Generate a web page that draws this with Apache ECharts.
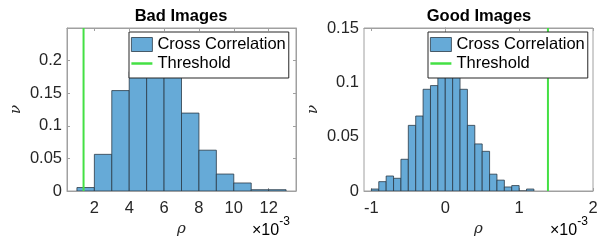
<!DOCTYPE html>
<html>
<head>
<meta charset="utf-8">
<script src="https://cdn.jsdelivr.net/npm/echarts@6/dist/echarts.min.js"></script>
<style>
  html, body { margin: 0; padding: 0; background: #fff; }
  #main { width: 604px; height: 247px; }
</style>
</head>
<body>
<div id="main"></div>
<script>
// histogram bin edges (x 10^-3) and normalised counts
var badEdges = [1, 2, 3, 4, 5, 6, 7, 8, 9, 10, 11, 12, 13];
var badFreq = [0.0053, 0.0562, 0.154, 0.183, 0.196, 0.181, 0.1195, 0.0626, 0.026, 0.0123, 0.002, 0.002];
var goodEdges = [-1.0, -0.9, -0.8, -0.7, -0.6, -0.5, -0.4, -0.3, -0.2, -0.1, 0, 0.1, 0.2, 0.3, 0.4, 0.5, 0.6, 0.7, 0.8, 0.9, 1.0, 1.1, 1.2];
var goodFreq = [0.0018, 0.0086, 0.0138, 0.0117, 0.0292, 0.0604, 0.069, 0.0936, 0.097, 0.112, 0.118, 0.114,
    0.0936, 0.0604, 0.0433, 0.0365, 0.0155, 0.01, 0.0037, 0.005, 0, 0.0018];
var badThreshold = 1.38;
var goodThreshold = 1.39;
var badXTicks = [2, 4, 6, 8, 10, 12];
var goodXTicks = [-1, 0, 1, 2];
var badYTicks = [0, 0.05, 0.1, 0.15, 0.2];
var goodYTicks = [0, 0.05, 0.1, 0.15];

var FONT = 'Liberation Sans';
var barFill = '#66aad7';
var barEdge = '#2b3a46';
var green = '#44e044';
var boxColor = '#a0a0a0';

function toBins(edges, freq) {
    var out = [];
    for (var i = 0; i < freq.length; i++)
        out.push([edges[i], edges[i + 1], freq[i]]);
    return out;
}

function renderHist(params, api) {
    var p0 = api.coord([api.value(0), api.value(2)]);
    var p1 = api.coord([api.value(1), 0]);
    return {
        type: 'rect',
        shape: { x: p0[0], y: p0[1], width: p1[0] - p0[0], height: p1[1] - p0[1] },
        style: { fill: barFill, stroke: barEdge, lineWidth: 0.8 }
    };
}

function xAx(grid, min, max, ticks, pos) {
    var main = pos === 'bottom';
    return {
        type: 'value', gridIndex: grid, position: pos, min: min, max: max,
        axisLine: { show: true, onZero: false, lineStyle: { color: boxColor, width: 1 } },
        axisTick: { show: true, inside: true, length: 3, customValues: ticks, lineStyle: { color: boxColor } },
        axisLabel: { show: main, customValues: ticks, margin: 9, color: '#262626', fontFamily: FONT, fontSize: 16.5 },
        splitLine: { show: false },
        name: main ? 'ρ' : '', nameLocation: 'middle', nameGap: 30,
        nameTextStyle: { fontFamily: 'DejaVu Serif', fontStyle: 'italic', fontSize: 15, color: '#262626' }
    };
}

function yAx(grid, max, ticks, pos) {
    var main = pos === 'left';
    return {
        type: 'value', gridIndex: grid, position: pos, min: 0, max: max,
        axisLine: { show: true, lineStyle: { color: boxColor, width: 1 } },
        axisTick: { show: true, inside: true, length: 3, customValues: ticks, lineStyle: { color: boxColor } },
        axisLabel: { show: main, customValues: ticks, margin: 5, color: '#262626', fontFamily: FONT, fontSize: 16.5 },
        splitLine: { show: false },
        name: main ? 'ν' : '', nameLocation: 'middle', nameGap: 43, nameRotate: 90,
        nameTextStyle: { fontFamily: 'DejaVu Serif', fontStyle: 'italic', fontSize: 15, color: '#262626' }
    };
}

function legendFor(left) {
    return {
        left: left, top: 32, orient: 'vertical',
        backgroundColor: '#fff', borderColor: '#262626', borderWidth: 1,
        padding: [3, 3, 5, 2], itemGap: 0, itemWidth: 21, itemHeight: 14,
        textStyle: { fontFamily: FONT, fontSize: 16.5, color: '#000', lineHeight: 19 },
        data: [
            { name: 'Cross Correlation', icon: 'rect', itemStyle: { color: barFill, borderColor: barEdge, borderWidth: 0.8 } },
            { name: 'Threshold', icon: 'path://M0,0 L21,0 L21,2.5 L0,2.5 Z', itemStyle: { color: green, borderWidth: 0 } }
        ],
        selectedMode: false
    };
}

function sciLabel(left) {
    return {
        type: 'text', left: left, top: 216,
        style: { text: '{a|×10}{b|-3}', rich: {
            a: { fontFamily: FONT, fontSize: 16, color: '#262626', padding: [7, 0, 0, 0] },
            b: { fontFamily: FONT, fontSize: 12, color: '#262626', verticalAlign: 'top' } } }
    };
}

var chart = echarts.init(document.getElementById('main'), null, { renderer: 'canvas' });

var option = {
    animation: false,
    backgroundColor: '#fff',
    title: [
        { text: 'Bad Images', left: 181, top: 8, padding: 0, textAlign: 'center',
          textStyle: { fontFamily: FONT, fontWeight: 'bold', fontSize: 16.5, color: '#000' } },
        { text: 'Good Images', left: 479, top: 8, padding: 0, textAlign: 'center',
          textStyle: { fontFamily: FONT, fontWeight: 'bold', fontSize: 16.5, color: '#000' } }
    ],
    legend: [legendFor(129), legendFor(428)],
    grid: [
        { left: 67, top: 28, width: 229, height: 163, show: true, borderColor: boxColor, borderWidth: 1, backgroundColor: '#fff' },
        { left: 364, top: 28, width: 229, height: 163, show: true, borderColor: boxColor, borderWidth: 1, backgroundColor: '#fff' }
    ],
    xAxis: [
        xAx(0, 0.43, 13.57, badXTicks, 'bottom'),
        xAx(0, 0.43, 13.57, badXTicks, 'top'),
        xAx(1, -1.1, 2, goodXTicks, 'bottom'),
        xAx(1, -1.1, 2, goodXTicks, 'top')
    ],
    yAxis: [
        yAx(0, 0.25, badYTicks, 'left'),
        yAx(0, 0.25, badYTicks, 'right'),
        yAx(1, 0.15, goodYTicks, 'left'),
        yAx(1, 0.15, goodYTicks, 'right')
    ],
    series: [
        { name: 'Cross Correlation', type: 'custom', xAxisIndex: 0, yAxisIndex: 0,
          renderItem: renderHist, encode: { x: [0, 1], y: 2 }, clip: true,
          itemStyle: { color: barFill }, data: toBins(badEdges, badFreq) },
        { name: 'Threshold', type: 'line', xAxisIndex: 0, yAxisIndex: 0, symbol: 'none',
          lineStyle: { color: green, width: 2 }, itemStyle: { color: green },
          data: [[badThreshold, 0], [badThreshold, 0.25]] },
        { name: 'Cross Correlation', type: 'custom', xAxisIndex: 2, yAxisIndex: 2,
          renderItem: renderHist, encode: { x: [0, 1], y: 2 }, clip: true,
          itemStyle: { color: barFill }, data: toBins(goodEdges, goodFreq) },
        { name: 'Threshold', type: 'line', xAxisIndex: 2, yAxisIndex: 2, symbol: 'none',
          lineStyle: { color: green, width: 2 }, itemStyle: { color: green },
          data: [[goodThreshold, 0], [goodThreshold, 0.15]] }
    ],
    graphic: [sciLabel(252), sciLabel(550)]
};
chart.setOption(option);
</script>
</body>
</html>
